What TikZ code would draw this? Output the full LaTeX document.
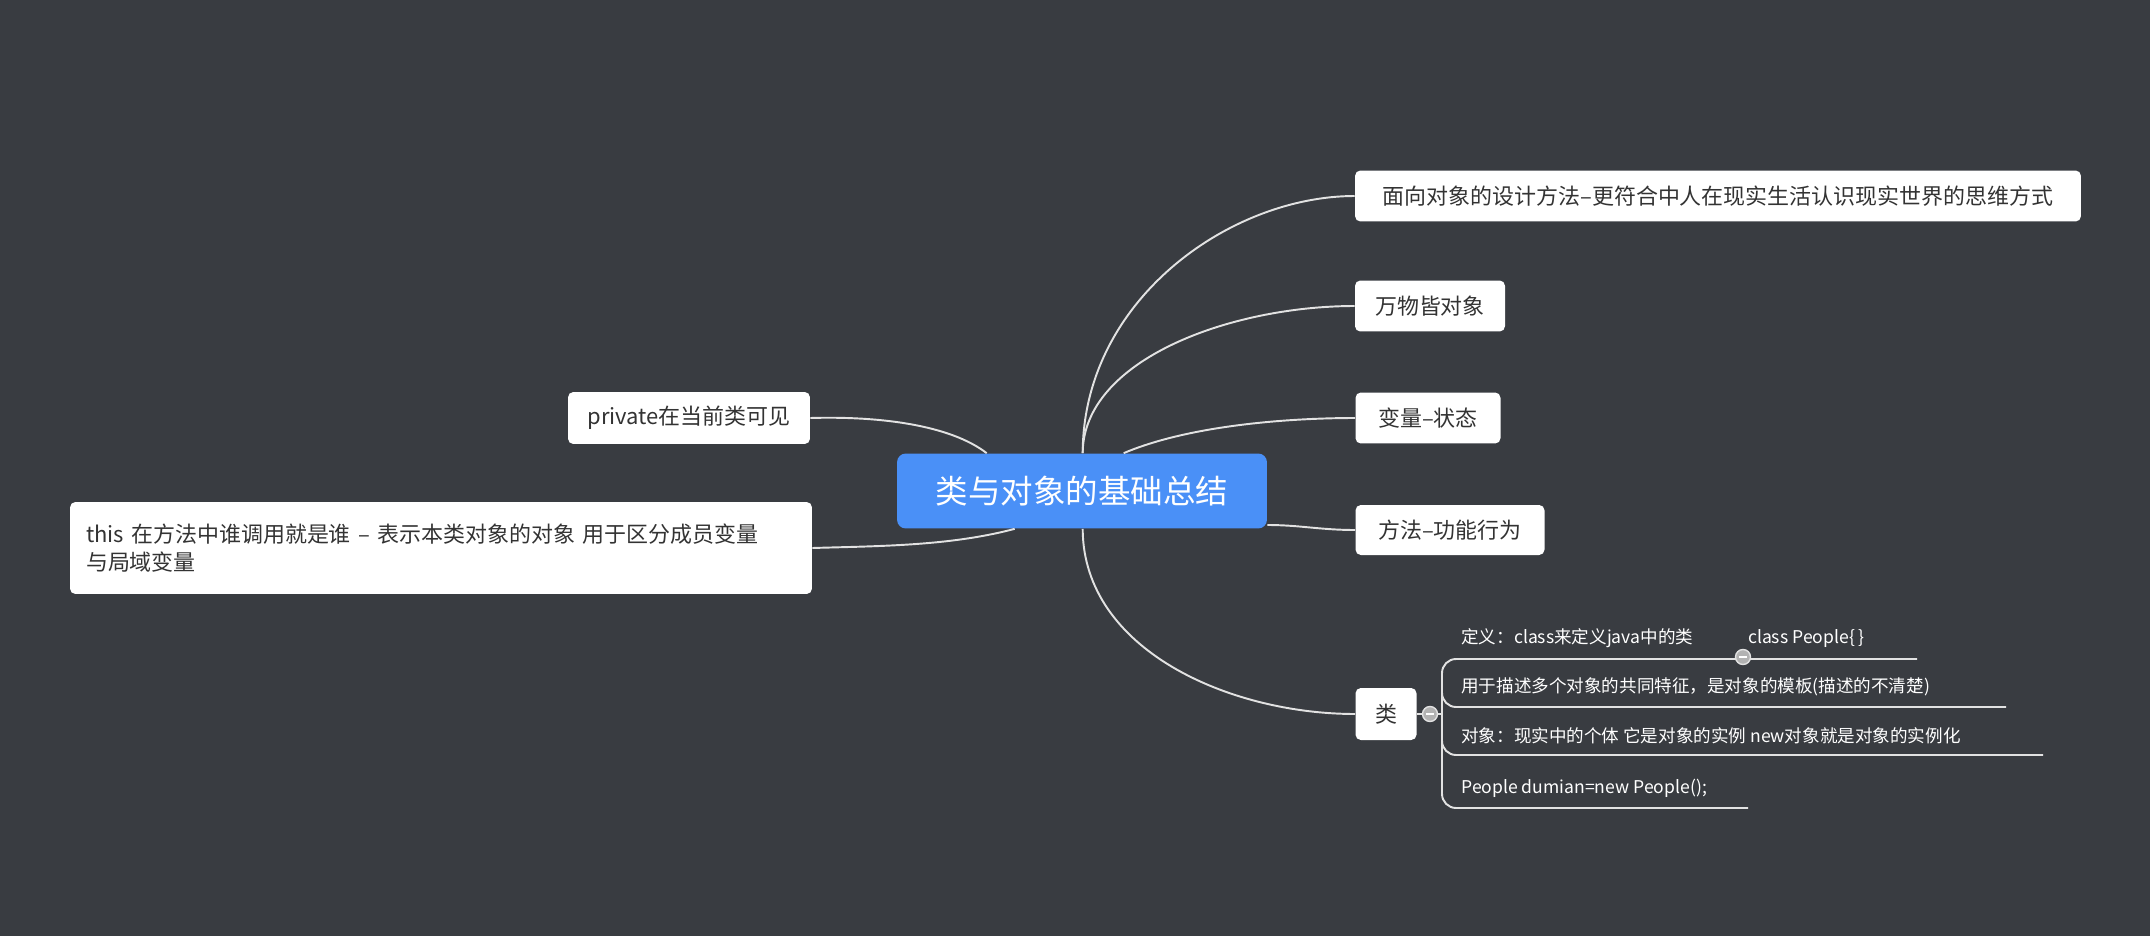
\documentclass[tikz,border=0pt]{standalone}
\usepackage{fontspec}
\setmainfont{Noto Sans CJK SC}
\usetikzlibrary{calc,positioning}
\definecolor{bgdark}{HTML}{393C41}
\definecolor{rootblue}{HTML}{4A90F7}
\definecolor{linegray}{HTML}{E2E2E2}
\definecolor{txtdark}{HTML}{333333}
\tikzset{
	topic/.style={fill=white,rounded corners=3pt,text=txtdark,font=\fontsize{12.5}{16}\selectfont,inner sep=0pt,anchor=center},
	branch/.style={draw=linegray,line width=1.1pt},
	subitem/.style={anchor=west,text=white,font=\fontsize{10}{12}\selectfont,inner sep=0pt},
	fold/.style={circle,draw=linegray,fill=gray!60,line width=0.8pt,minimum size=0.3cm,inner sep=0pt},
}
\begin{document}
\begin{tikzpicture}[x=0.02cm,y=-0.02cm]
\fill[bgdark] (0,0) rectangle (2150,936);
\useasboundingbox (0,0) rectangle (2150,936);
% topics
\node (root) at (1082,491) [fill=rootblue,rounded corners=5pt,text=white,minimum width=7.4cm,minimum height=1.5cm,font=\fontsize{18.5}{22}\selectfont] {类与对象的基础总结};
\node (design) at (1718,196) [topic,minimum width=14.52cm,minimum height=1.02cm] {面向对象的设计方法--更符合中人在现实生活认识现实世界的思维方式};
\node (allobj) at (1430,306) [topic,minimum width=3cm,minimum height=1.02cm] {万物皆对象};
\node (var) at (1428,418) [topic,minimum width=2.9cm,minimum height=1.02cm] {变量--状态};
\node (method) at (1450,530) [topic,minimum width=3.78cm,minimum height=1cm] {方法--功能行为};
\node (cls) at (1386,714) [topic,minimum width=1.22cm,minimum height=1.04cm] {类};
\node (priv) at (689,418) [topic,minimum width=4.84cm,minimum height=1.04cm] {private在当前类可见};
\node (this) at (441,548) [topic,minimum width=14.84cm,minimum height=1.84cm,align=left,text width=14.2cm] {this 在方法中谁调用就是谁 -- 表示本类对象的对象 用于区分成员变量\\与局域变量};
% connectors
\coordinate (rtop) at ($(root.north west)+(186,0)$);
\coordinate (rvar) at ($(root.north west)+(227,0)$);
\coordinate (rbot) at ($(root.south west)+(186,0)$);
\coordinate (lpriv) at ($(root.north west)+(90,0)$);
\coordinate (lthis) at ($(root.south west)+(118,0)$);
\draw[branch] (rtop) .. controls (1083,300) and (1230,196) .. (design.west);
\draw[branch] (rtop) .. controls (1083,360) and (1230,306) .. (allobj.west);
\draw[branch] (rvar) .. controls (1190,425) and (1290,418) .. (var.west);
\draw[branch] ($(root.east)+(0,34)$) .. controls (1300,525) and (1320,530) .. (method.west);
\draw[branch] (rbot) .. controls (1083,650) and (1230,714) .. (cls.west);
\draw[branch] (lpriv) .. controls (950,425) and (880,416) .. (priv.east);
\draw[branch] (lthis) .. controls (950,546) and (880,546) .. (this.east);
% sub items of cls
\node (fcls) at (1430,714) [fold] {};
\draw[branch] (cls.east) -- (fcls);
\draw[branch] (fcls) -- (1442,714);
\draw[branch,rounded corners=8] (1917,659) -- (1442,659) -- (1442,808) -- (1748,808);
\draw[branch,rounded corners=8] (1442,690) -- (1442,707) -- (2006,707);
\draw[branch,rounded corners=8] (1442,738) -- (1442,755) -- (2043,755);
\node (fdef) at (1743,657) [fold] {};
\foreach \f in {fcls,fdef} \draw[white,line width=1pt] ($(\f)+(-4,0)$) -- ($(\f)+(4,0)$);
\node (idef) at (1461,638) [subitem] {定义：class来定义java中的类\hspace{1.1cm}class People\{ \}};
\node (idesc) at (1461,687) [subitem] {用于描述多个对象的共同特征，是对象的模板(描述的不清楚)};
\node (iobj) at (1461,736) [subitem] {对象：现实中的个体 它是对象的实例 new对象就是对象的实例化};
\node (inew) at (1461,788) [subitem] {People dumian=new People();};
\end{tikzpicture}
\end{document}
